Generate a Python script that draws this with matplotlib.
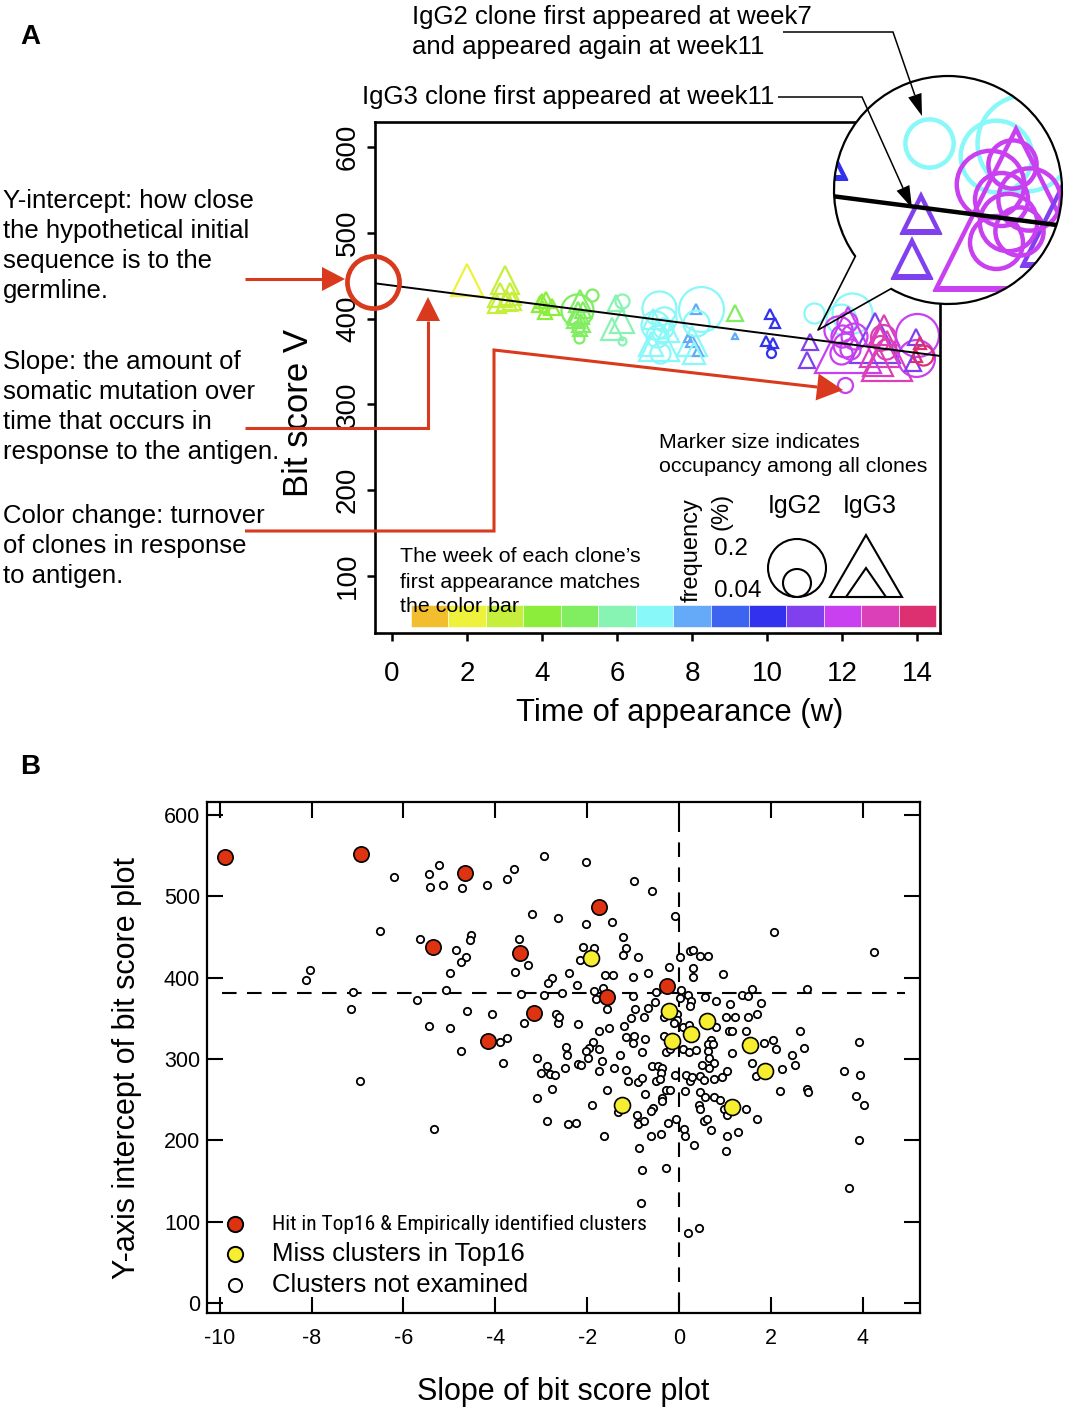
import numpy as np
import matplotlib
matplotlib.use('Agg')
import matplotlib.pyplot as plt
from matplotlib.patches import Circle, Polygon, Arc
from matplotlib import font_manager as fm

plt.rcParams['font.family'] = ['Liberation Sans', 'DejaVu Sans']

W, H = 1069, 1416
fig = plt.figure(figsize=(W / 100, H / 100), dpi=100)

# ---------------- Panel A data ----------------
weeks = list(range(1, 15))
week_colors = ['#F2BE2E', '#EEF23C', '#C6EE3C', '#8CEE3A', '#80EE60', '#88F4B4', '#88F8F8',
               '#64AAF8', '#3C64F0', '#3232EE', '#8040EE', '#C840F0', '#DC40B8', '#DC3070']

A_first_week = [2, 3, 3, 3, 3, 3, 3, 4, 4, 4, 4, 4, 5, 5, 5, 5, 5, 5, 5, 6, 6, 6, 6, 6,
                7, 7, 7, 7, 7, 7, 7, 7, 8, 8, 8, 8, 5, 8, 10, 10, 10, 10, 10, 7, 7, 7,
                11, 11, 12, 11, 12, 12, 12, 12, 12, 12, 13, 13, 13, 13, 13, 12, 12, 11,
                14, 14, 11, 14,
                5, 5, 5, 4, 7, 7, 7, 7, 7, 7, 12, 12, 13, 13]
A_time = [1.99, 3.01, 2.88, 3.15, 3.07, 2.80, 3.20, 4.11, 3.95, 4.27, 4.08, 4.05, 4.93,
          5.01, 4.96, 5.04, 4.99, 5.33, 5.00, 5.97, 6.13, 5.87, 6.13, 6.13, 7.11, 8.24,
          7.11, 8.00, 7.01, 7.23, 7.05, 6.95, 8.10, 8.00, 8.15, 7.89, 9.13, 9.13, 10.07,
          10.21, 9.97, 10.16, 10.11, 11.24, 12.26, 11.95, 11.15, 11.06, 12.16, 12.88,
          11.89, 12.08, 12.12, 11.95, 12.30, 12.08, 13.19, 13.01, 13.10, 13.09, 13.15,
          13.99, 13.95, 13.95, 14.08, 13.95, 13.89, 14.16,
          4.90, 5.08, 4.95, 4.00, 7.25, 7.15, 6.90, 7.35, 8.10, 8.05, 12.00, 12.20, 13.00, 12.95]
A_bitscore = [445, 445, 427, 429, 420, 417, 420, 422, 417, 414, 408, 412, 410, 420, 406,
              395, 377, 428, 388, 418, 397, 388, 420, 374, 412, 411, 374, 374, 393, 389,
              380, 400, 411, 374, 362, 377, 406, 380, 405, 395, 374, 371, 360, 406, 406,
              400, 373, 352, 375, 377, 387, 369, 396, 360, 380, 323, 356, 367, 387, 379,
              365, 381, 354, 379, 371, 356, 348, 358,
              400, 410, 390, 420, 400, 360, 370, 385, 395, 360, 380, 365, 372, 350]
A_isotype = ['IgG3'] * 11 + ['IgG2', 'IgG2', 'IgG3', 'IgG3', 'IgG3', 'IgG2', 'IgG2', 'IgG3',
             'IgG3', 'IgG3', 'IgG3', 'IgG2', 'IgG2', 'IgG2', 'IgG2', 'IgG3', 'IgG3', 'IgG2',
             'IgG2', 'IgG2', 'IgG3', 'IgG3', 'IgG3', 'IgG3', 'IgG3', 'IgG3', 'IgG3', 'IgG3',
             'IgG3', 'IgG3', 'IgG3', 'IgG2', 'IgG2', 'IgG2', 'IgG2', 'IgG3', 'IgG3', 'IgG3',
             'IgG3', 'IgG2', 'IgG2', 'IgG2', 'IgG2', 'IgG2', 'IgG2', 'IgG3', 'IgG3', 'IgG3',
             'IgG2', 'IgG2', 'IgG2', 'IgG2', 'IgG3', 'IgG3', 'IgG3', 'IgG3', 'IgG2',
             'IgG3', 'IgG3', 'IgG2', 'IgG3', 'IgG2', 'IgG2', 'IgG3', 'IgG3', 'IgG2', 'IgG3',
             'IgG2', 'IgG2', 'IgG2', 'IgG3']
A_freq = [0.042, 0.030, 0.022, 0.019, 0.015, 0.0125, 0.0125, 0.0099, 0.0099, 0.0099, 0.0076,
          0.0059, 0.061, 0.019, 0.019, 0.0125, 0.0059, 0.0086, 0.0076, 0.0099, 0.022, 0.019,
          0.0117, 0.0038, 0.069, 0.120, 0.062, 0.035, 0.047, 0.024, 0.029, 0.015, 0.0039,
          0.0056, 0.0039, 0.0025, 0.0099, 0.0014, 0.0039, 0.0039, 0.0039, 0.0039, 0.0048,
          0.024, 0.095, 0.053, 0.0087, 0.0087, 0.17, 0.096, 0.047, 0.034, 0.024, 0.029,
          0.040, 0.0134, 0.096, 0.062, 0.035, 0.037, 0.024, 0.110, 0.081, 0.0087, 0.0056,
          0.0056, 0.0087, 0.024,
          0.0125, 0.0099, 0.0086, 0.0076, 0.035, 0.024, 0.024, 0.019, 0.040, 0.019,
          0.029, 0.024, 0.0134, 0.035]

fit_intercept = 438.5
fit_slope = -5.62
yint_time, yint_score = -0.5, 443

A_xticks = [0, 2, 4, 6, 8, 10, 12, 14]
A_yticks = [100, 200, 300, 400, 500, 600]

# ---------------- Panel B data ----------------
B_hit_slope = [-9.89, -6.93, -4.66, -1.74, -5.36, -3.46, -0.26, -1.57, -3.16, -4.16]
B_hit_icpt = [548, 552, 529, 487, 438, 430, 390, 376, 357, 322]
B_miss_slope = [-1.92, -0.22, 0.61, 0.26, -0.15, 1.55, 1.87, -1.24, 1.15]
B_miss_icpt = [424, 359, 347, 331, 322, 317, 285, 244, 241]
B_other_slope = [-6.20, -5.45, -5.22, -5.43, -5.15, -4.73, -4.19, -3.74, -3.60, -2.94, -3.20, -2.63,
                 -6.52, -5.64, -4.53, -4.56, -3.48, -4.85, -4.63, -4.75, -3.28, -4.99, -3.57, -8.03,
                 -8.13, -2.76, -2.85, -7.09, -5.08, -5.71, -3.44, -2.94, -7.15, -4.62, -4.08, -2.68,
                 -2.64, -5.45, -4.98, -3.38, -3.75, -3.90, -4.75, -3.09, -3.83, -2.88, -2.02, -0.97,
                 -0.59, -2.02, -1.46, -0.09, 2.06, 4.25, -1.22, -1.16, -1.21, -0.90, -2.09, -1.85,
                 -2.16, 0.23, 0.30, 0.45, 0.63, 0.03, -0.22, 0.30, 0.31, 0.95, -2.39, -1.62, -1.43,
                 -1.00, -0.68, -2.22, -1.66, -1.84, -1.80, -2.54, -1.00, -0.51, 0.04, 0.19, 0.03,
                 0.57, 0.81, 0.27, 0.23, 1.38, 1.50, 1.58, 2.78, 1.11, 1.79, -0.52, -0.68, -0.96,
                 -1.57, -2.61, -2.21, -1.04, -0.76, -0.33, -0.04, -0.04, -0.10, 1.02, 1.22, 1.51,
                 1.70, -1.20, -1.53, -1.74, 0.08, 0.22, 0.81, 1.10, 1.16, 1.45, 2.64, -1.16, -0.97,
                 -1.00, -0.75, -0.33, 0.69, -1.88, -1.95, -1.74, -2.46, -2.03, -2.43, -1.98, -1.68,
                 -1.29, -0.80, -0.28, -0.20, 0.09, 0.21, 0.38, 0.64, 0.74, 0.63, 1.16, 1.86, 2.04,
                 2.11, 2.46, 2.72, 3.92, 0.66, 0.76, 0.65, 0.50, 1.58, 2.53, 2.25, 1.68, 3.60, 3.95,
                 -3.00, -2.80, -2.70, -2.48, -2.19, -2.14, -1.74, -1.41, -1.16, -0.59, -0.45, -0.36,
                 -0.39, -0.09, 0.15, 0.25, 0.29, 0.46, 0.55, 0.76, 0.93, 1.05, -1.10, -0.90, -0.81,
                 -0.49, -0.41, -2.77, -1.57, -0.29, -0.20, 0.13, -0.73, 0.46, 0.57, 0.76, 0.90,
                 -0.36, -0.36, -3.09, -1.90, -1.32, -0.56, -0.60, 0.44, 0.46, 0.98, 1.05, 1.47,
                 2.19, 2.79, 2.82, 3.86, 4.04, -2.88, -2.42, -2.24, -0.92, -0.90, -0.76, -0.23,
                 -0.07, 0.11, 0.55, 0.60, 0.70, 1.71, -1.63, -0.62, -0.39, 0.14, 1.05, 1.29, 3.92,
                 -0.88, -0.81, -0.28, -0.82, 0.20, 0.43, 0.33, 1.02, 3.70, -6.94, -5.34]
B_other_icpt = [524, 527, 538, 511, 514, 510, 514, 521, 534, 550, 478, 474,
                457, 448, 452, 447, 448, 434, 425, 419, 416, 406, 407, 409,
                397, 400, 393, 382, 385, 373, 380, 379, 362, 359, 356, 355,
                345, 341, 338, 345, 326, 321, 310, 302, 295, 291, 542, 519,
                507, 466, 468, 476, 456, 432, 450, 437, 428, 426, 438, 436,
                422, 433, 434, 427, 427, 425, 413, 412, 401, 405, 406, 404, 403,
                401, 406, 391, 387, 384, 374, 381, 377, 382, 385, 379, 375,
                376, 372, 371, 365, 379, 377, 386, 386, 368, 369, 370, 363, 361,
                361, 352, 343, 351, 352, 352, 356, 348, 344, 352, 352, 352,
                355, 341, 338, 334, 339, 342, 339, 334, 335, 335, 334, 327, 329,
                320, 325, 328, 324, 321, 314, 313, 315, 310, 305, 302, 298,
                305, 309, 309, 313, 313, 309, 311, 318, 318, 310, 308, 320, 324,
                313, 305, 314, 321, 301, 295, 289, 293, 295, 293, 288, 279, 285, 281,
                283, 282, 280, 289, 294, 293, 286, 289, 287, 291, 292, 289,
                283, 281, 280, 273, 278, 279, 274, 275, 278, 286, 273, 272, 277,
                273, 276, 263, 262, 262, 262, 261, 257, 259, 253, 254, 250,
                252, 248, 252, 244, 235, 240, 236, 244, 239, 239, 231, 239,
                261, 263, 260, 255, 244, 224, 220, 222, 231, 220, 224, 221,
                226, 214, 224, 227, 213, 227, 205, 205, 208, 206, 206, 210, 201,
                191, 164, 166, 123, 86, 93, 195, 187, 142, 273, 214]
B_mean_icpt = 381
B_xticks = [-10, -8, -6, -4, -2, 0, 2, 4]
B_yticks = [0, 100, 200, 300, 400, 500, 600]

RED = '#D9391C'


def ms_from_freq(f, iso):
    k = 129.7 if iso == 'IgG2' else 161.0
    return k * np.sqrt(f) * 0.72


def find_narrow_font():
    prefs = ['Liberation Sans Narrow', 'Arial Narrow', 'Roboto Condensed', 'Open Sans Condensed',
             'Noto Sans Condensed', 'DejaVu Sans Condensed']
    ok_w = (400, 'normal', 'regular', 'book')
    for p in prefs:
        for f in fm.fontManager.ttflist:
            if f.name == p and f.style == 'normal' and f.weight in ok_w:
                return f.fname
    for f in fm.fontManager.ttflist:
        st = f.stretch
        cond = (isinstance(st, str) and 'condensed' in st) or (isinstance(st, (int, float)) and st < 500)
        if cond and 'Sans' in f.name and f.style == 'normal' and f.weight in ok_w and 'Mono' not in f.name:
            return f.fname
    return None


# ================= Panel A =================
axA = fig.add_axes([375 / W, 1 - 633 / H, 565 / W, 511 / H])
axA.set_xlim(-0.45, 14.6)
axA.set_ylim(33.6, 629)

axA.bar(weeks, 25.6, bottom=40.6, width=1.0, color=week_colors, edgecolor='white', linewidth=0.4, zorder=1)

xl = np.array([-0.45, 14.6])
axA.plot(xl, fit_intercept + fit_slope * xl, color='black', lw=1.4, zorder=3)

for wk, t, s, iso, f in zip(A_first_week, A_time, A_bitscore, A_isotype, A_freq):
    axA.plot(t, s, marker='o' if iso == 'IgG2' else '^', ms=ms_from_freq(f, iso),
             mfc='none', mec=week_colors[wk - 1], mew=1.6, ls='none', zorder=2)

axA.plot(yint_time, yint_score, marker='o', ms=37.5, mfc='none', mec=RED, mew=3.4,
         ls='none', clip_on=False, zorder=6)

axA.set_xticks(A_xticks)
axA.set_yticks(A_yticks)
for sp in axA.spines.values():
    sp.set_linewidth(1.9)
axA.tick_params(direction='out', length=6, width=1.8, labelsize=20)
axA.tick_params(axis='x', pad=14)
axA.tick_params(axis='y', pad=4)
plt.setp(axA.get_yticklabels(), rotation=90, va='center', ha='right')
axA.set_xlabel('Time of appearance (w)', fontsize=22.3, va='center')
axA.xaxis.set_label_coords((680 - 375) / 565, (633 - 713) / 511)
axA.set_ylabel('Bit score V', fontsize=25, va='center')
axA.yaxis.set_label_coords((298 - 375) / 565, (633 - 413) / 511)

# ---------- magnifier ----------
axM = fig.add_axes([834 / W, 1 - 304 / H, 228 / W, 228 / H], zorder=3)
axM.set_xlim(11.44 - 1.216, 11.44 + 1.216)
axM.set_ylim(384 - 53.1, 384 + 53.1)
axM.axis('off')
disk = Circle((0.5, 0.5), 0.5, transform=axM.transAxes, fc='white', ec='none', zorder=0)
axM.add_patch(disk)
mag = 2.4
ln, = axM.plot(xl, fit_intercept + fit_slope * xl, color='black', lw=3.2, zorder=3)
ln.set_clip_path(disk)
for wk, t, s, iso, f in zip(A_first_week, A_time, A_bitscore, A_isotype, A_freq):
    m, = axM.plot(t, s, marker='o' if iso == 'IgG2' else '^', ms=ms_from_freq(f, iso) * mag,
                  mfc='none', mec=week_colors[wk - 1], mew=3.2, ls='none', zorder=2)
    m.set_clip_path(disk)
axM.add_patch(Arc((0.5, 0.5), 1.0, 1.0, theta1=240, theta2=575.6, transform=axM.transAxes,
                  color='black', lw=1.6, clip_on=False, zorder=5))

# ================= Panel B =================
axB = fig.add_axes([207 / W, 1 - 1313 / H, 713 / W, 511 / H])
axB.set_xlim(-10.28, 5.25)
axB.set_ylim(-12, 616)
axB.plot([-9.96, 4.92], [B_mean_icpt, B_mean_icpt], color='black', lw=1.5, dashes=(7, 5), zorder=1)
axB.plot([0, 0], [-5, 605], color='black', lw=1.5, dashes=(7, 5), zorder=1)
axB.plot(B_other_slope, B_other_icpt, 'o', ms=5.3, mfc='white', mec='black', mew=1.3, ls='none', zorder=3)
axB.plot(B_miss_slope, B_miss_icpt, 'o', ms=11.5, mfc='#F8EE30', mec='black', mew=1.2, ls='none', zorder=4)
axB.plot(B_hit_slope, B_hit_icpt, 'o', ms=11, mfc='#DD3311', mec='black', mew=1.2, ls='none', zorder=5)
axB.set_xticks(B_xticks)
axB.set_yticks(B_yticks)
axB.set_xticklabels([str(v) for v in B_xticks])
for sp in axB.spines.values():
    sp.set_linewidth(1.6)
axB.tick_params(direction='in', length=11.5, width=1.5, top=True, right=True, labelsize=15.5)
axB.tick_params(axis='x', pad=11)
axB.tick_params(axis='y', pad=5)
axB.set_xlabel('Slope of bit score plot', fontsize=22, va='center')
axB.xaxis.set_label_coords((563 - 207) / 713, (1313 - 1392) / 511)
axB.set_ylabel('Y-axis intercept of bit score plot', fontsize=22, va='center')
axB.yaxis.set_label_coords((127 - 207) / 713, (1313 - 1068) / 511)

narrow = find_narrow_font()
legB = [('#DD3311', 11, 'Hit in Top16 & Empirically identified clusters', (1313 - 1224) / 511),
        ('#F8EE30', 11, 'Miss clusters in Top16', (1313 - 1254) / 511),
        ('white', 9.5, 'Clusters not examined', (1313 - 1285) / 511)]
leg_texts = []
for fc, ms, label, yy in legB:
    axB.plot([(235 - 207) / 713], [yy], 'o', ms=ms, mfc=fc, mec='black', mew=1.4,
             transform=axB.transAxes, clip_on=False, zorder=6)
    t = axB.text((272 - 207) / 713, yy, label, transform=axB.transAxes, fontsize=18.5,
                 va='center', ha='left')
    leg_texts.append(t)
if narrow is not None:
    leg_texts[0].set_fontproperties(fm.FontProperties(fname=narrow, size=18.5))
renderer = fig.canvas.get_renderer()
w0 = leg_texts[0].get_window_extent(renderer).width
target = 375.0
if w0 > target:
    leg_texts[0].set_fontsize(leg_texts[0].get_fontsize() * target / w0)

# ================= Overlay annotations (pixel coords) =================
ov = fig.add_axes([0, 0, 1, 1], zorder=10)
ov.set_xlim(0, W)
ov.set_ylim(H, 0)
ov.axis('off')
ov.patch.set_alpha(0)


def head(tip, tail, L, Wd, color):
    tip = np.array(tip, float)
    tail = np.array(tail, float)
    d = tip - tail
    d /= np.hypot(*d)
    n = np.array([-d[1], d[0]])
    base = tip - d * L
    ov.add_patch(Polygon([tip, base + n * Wd / 2, base - n * Wd / 2], closed=True, fc=color, ec='none'))
    return base


def arrow(points, color, lw, L, Wd):
    pts = [np.array(p, float) for p in points]
    base = head(pts[-1], pts[-2], L, Wd, color)
    xs = [p[0] for p in pts[:-1]] + [base[0]]
    ys = [p[1] for p in pts[:-1]] + [base[1]]
    ov.plot(xs, ys, color=color, lw=lw, solid_capstyle='butt', solid_joinstyle='miter')


arrow([(245, 279), (345, 279)], RED, 2.2, 23, 24)
arrow([(245, 428), (428, 428), (428, 297)], RED, 2.2, 24, 24)
arrow([(245, 531), (494, 531), (494, 350), (843, 390)], RED, 2.2, 26, 27)
arrow([(783, 32), (893, 32), (922, 116)], 'black', 1.1, 22, 14)
arrow([(778, 97), (862, 97), (912, 208)], 'black', 1.1, 22, 14)

# magnifier pointer
ov.plot([855.3, 818, 891.0], [256.4, 330, 288.7], color='black', lw=1.2)

# left annotations
left_lines = [("Y-intercept: how close", 201), ("the hypothetical initial", 231),
              ("sequence is to the", 261), ("germline.", 291),
              ("Slope: the amount of", 362), ("somatic mutation over", 392),
              ("time that occurs in", 422), ("response to the antigen.", 452),
              ("Color change: turnover", 516), ("of clones in response", 546),
              ("to antigen.", 576)]
for s, y in left_lines:
    ov.text(3, y, s, fontsize=18.5, va='center', ha='left')

ov.text(412, 17, "IgG2 clone first appeared at week7", fontsize=18.5, va='center', ha='left')
ov.text(412, 47, "and appeared again at week11", fontsize=18.5, va='center', ha='left')
ov.text(362, 97, "IgG3 clone first appeared at week11", fontsize=18.5, va='center', ha='left')

ov.text(659, 442, "Marker size indicates", fontsize=15.4, va='center', ha='left')
ov.text(659, 467, "occupancy among all clones", fontsize=15.4, va='center', ha='left')
ov.text(400, 557, "The week of each clone\u2019s", fontsize=15.4, va='center', ha='left')
ov.text(400, 582, "first appearance matches", fontsize=15.4, va='center', ha='left')
ov.text(400, 606, "the color bar", fontsize=15.4, va='center', ha='left')

ov.text(692, 550, "frequency", fontsize=17, rotation=90, va='center', ha='center')
ov.text(721, 511, "(%)", fontsize=17, rotation=90, va='center', ha='center')
ov.text(714, 549, "0.2", fontsize=17.5, va='center', ha='left')
ov.text(714, 591, "0.04", fontsize=17.5, va='center', ha='left')
ov.text(795, 506, "IgG2", fontsize=18, va='center', ha='center')
ov.text(870, 506, "IgG3", fontsize=18, va='center', ha='center')
ov.add_patch(Circle((797, 568), 29, fill=False, ec='black', lw=1.5))
ov.add_patch(Circle((797, 583), 14, fill=False, ec='black', lw=1.5))
ov.add_patch(Polygon([(866, 535), (830, 597), (902, 597)], closed=True, fill=False, ec='black', lw=1.5))
ov.add_patch(Polygon([(866, 568), (846, 597), (886, 597)], closed=True, fill=False, ec='black', lw=1.5))

ov.text(30, 37, "A", fontsize=20, fontweight='bold', va='center', ha='center')
ov.text(30, 767, "B", fontsize=20, fontweight='bold', va='center', ha='center')

fig.savefig('out.png', dpi=100)
